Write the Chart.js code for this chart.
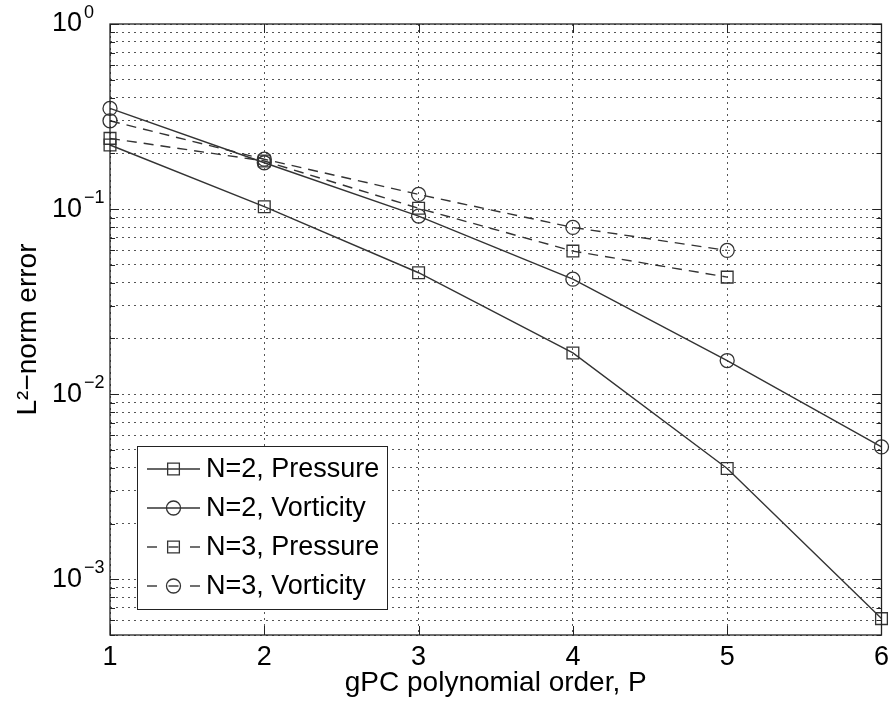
<!DOCTYPE html>
<html>
<head>
<meta charset="utf-8">
<title>L2-norm error vs gPC polynomial order</title>
<script src="https://cdn.jsdelivr.net/npm/chart.js@4.4.1/dist/chart.umd.min.js"></script>
<style>
  html, body { margin: 0; padding: 0; background: #fff; }
  canvas { display: block; }
</style>
</head>
<body>
<canvas id="errChart" width="895" height="706"></canvas>
<script>
// gPC polynomial order P
const orders = [1, 2, 3, 4, 5, 6];
const xTickValues = [1, 2, 3, 4, 5, 6];

// L2-norm errors for each run
const n2Pressure = [0.222, 0.103, 0.0453, 0.0167, 0.00397, 0.000613];
const n2Vorticity = [0.35, 0.178, 0.0917, 0.0418, 0.0152, 0.00519];
const n3Pressure = [0.241, 0.182, 0.101, 0.0593, 0.0429];
const n3Vorticity = [0.30, 0.186, 0.12, 0.0796, 0.0598];

const seriesNames = ["N=2, Pressure", "N=2, Vorticity", "N=3, Pressure", "N=3, Vorticity"];

// y axis range and the decades that get a 10^n label
const yMin = 5e-4;
const yMax = 1;
const yDecades = [-3, -2, -1, 0];

const FONT = "'Liberation Sans', Arial, Helvetica, sans-serif";
const INK = "#333";

function toPoints(values) {
    return values.map((v, i) => ({ x: orders[i], y: v }));
}

// 1..9 x 10^n ticks for the log grid
function logTicks() {
    const ticks = [];
    for (let e = -4; e <= 0; e++) {
        for (let m = 1; m <= 9; m++) {
            const v = +(m * Math.pow(10, e)).toPrecision(3);
            if (v >= yMin - 1e-12 && v <= yMax + 1e-12) ticks.push({ value: v });
        }
    }
    return ticks;
}

function isDecade(v) {
    const l = Math.log10(v);
    return Math.abs(l - Math.round(l)) < 1e-6;
}

function strokeLine(ctx, x0, y0, x1, y1) {
    ctx.beginPath();
    ctx.moveTo(x0, y0);
    ctx.lineTo(x1, y1);
    ctx.stroke();
}

function drawMarker(ctx, style, x, y, r) {
    ctx.beginPath();
    if (style === "rect") {
        const h = r * Math.SQRT1_2;
        ctx.rect(x - h, y - h, 2 * h, 2 * h);
    } else {
        ctx.arc(x, y, r, 0, Math.PI * 2);
    }
    ctx.stroke();
}

// frame, inward ticks, 10^n labels and the legend box
const axesDecor = {
    id: "axesDecor",
    afterDraw(chart) {
        const { ctx, chartArea: a, scales } = chart;
        const xs = scales.x;
        const ys = scales.y;
        ctx.save();
        ctx.setLineDash([]);
        ctx.strokeStyle = "#222";
        ctx.lineWidth = 1;

        // tick marks pointing into the plot
        ys.ticks.forEach((t) => {
            const py = Math.round(ys.getPixelForValue(t.value)) + 0.5;
            const len = isDecade(t.value) ? 9 : 5;
            strokeLine(ctx, a.left, py, a.left + len, py);
            strokeLine(ctx, a.right - len, py, a.right, py);
        });
        xs.ticks.forEach((t) => {
            const px = Math.round(xs.getPixelForValue(t.value)) + 0.5;
            strokeLine(ctx, px, a.bottom, px, a.bottom - 9);
            strokeLine(ctx, px, a.top, px, a.top + 9);
        });

        ctx.lineWidth = 1.3;
        ctx.strokeRect(a.left, a.top, a.right - a.left, a.bottom - a.top);

        // decade labels with raised exponent
        ctx.fillStyle = "#000";
        yDecades.forEach((e) => {
            const py = ys.getPixelForValue(Math.pow(10, e));
            ctx.font = "27px " + FONT;
            ctx.textAlign = "right";
            ctx.textBaseline = "middle";
            ctx.fillText("10", 82, py);
            ctx.font = "18px " + FONT;
            ctx.textAlign = "left";
            ctx.fillText(e === 0 ? "0" : "\u2212" + Math.abs(e), 84, py - 11);
        });

        // legend
        const box = { x: 137.5, y: 446.5, w: 250, h: 163 };
        ctx.fillStyle = "#fff";
        ctx.fillRect(box.x, box.y, box.w, box.h);
        ctx.lineWidth = 1;
        ctx.strokeStyle = "#222";
        ctx.strokeRect(box.x, box.y, box.w, box.h);

        chart.data.datasets.forEach((ds, i) => {
            const rowY = 469 + i * 39;
            const x0 = 147, x1 = 200, cx = (x0 + x1) / 2;
            ctx.strokeStyle = ds.borderColor;
            ctx.lineWidth = ds.borderWidth;
            if (ds.borderDash && ds.borderDash.length) {
                strokeLine(ctx, x0, rowY, x0 + 10, rowY);
                strokeLine(ctx, cx - 5, rowY, cx + 5, rowY);
                strokeLine(ctx, x1 - 10, rowY, x1, rowY);
            } else {
                strokeLine(ctx, x0, rowY, x1, rowY);
            }
            ctx.lineWidth = ds.pointBorderWidth;
            drawMarker(ctx, ds.pointStyle, cx, rowY, ds.pointRadius);
            ctx.fillStyle = "#000";
            ctx.font = "27px " + FONT;
            ctx.textAlign = "left";
            ctx.textBaseline = "middle";
            ctx.fillText(ds.label, 206, rowY + 1);
        });
        ctx.restore();
    }
};

function makeDataset(label, values, marker, dashed) {
    return {
        label: label,
        data: toPoints(values),
        borderColor: INK,
        borderWidth: 1.4,
        borderDash: dashed ? [10, 7] : [],
        pointStyle: marker,
        pointRadius: marker === "rect" ? 8.3 : 7,
        pointBorderColor: INK,
        pointBorderWidth: 1.3,
        pointBackgroundColor: "rgba(0,0,0,0)",
        fill: false,
        tension: 0,
        clip: false
    };
}

document.addEventListener("DOMContentLoaded", function() {
    Chart.defaults.font.family = FONT;
    Chart.defaults.color = "#000";

    const ctx = document.getElementById("errChart").getContext("2d");
    new Chart(ctx, {
        type: "line",
        data: {
            datasets: [
                makeDataset(seriesNames[0], n2Pressure, "rect", false),
                makeDataset(seriesNames[1], n2Vorticity, "circle", false),
                makeDataset(seriesNames[2], n3Pressure, "rect", true),
                makeDataset(seriesNames[3], n3Vorticity, "circle", true)
            ]
        },
        options: {
            responsive: false,
            animation: false,
            devicePixelRatio: 1,
            layout: { padding: { top: 24, right: 12, left: 0, bottom: 0 } },
            plugins: {
                legend: { display: false },
                tooltip: { enabled: false }
            },
            scales: {
                x: {
                    type: "linear",
                    min: 1,
                    max: 6,
                    afterBuildTicks: (scale) => {
                        scale.ticks = xTickValues.map((v) => ({ value: v }));
                    },
                    afterFit: (scale) => { scale.height = 71; },
                    ticks: {
                        autoSkip: false,
                        maxRotation: 0,
                        padding: 6,
                        color: "#000",
                        font: { size: 27 }
                    },
                    grid: { color: "#555", lineWidth: 1, drawTicks: false },
                    border: { display: false, dash: [2, 4] },
                    title: {
                        display: true,
                        text: "gPC polynomial order, P",
                        color: "#000",
                        font: { size: 28 },
                        padding: { top: 0, bottom: 6 }
                    }
                },
                y: {
                    type: "logarithmic",
                    min: yMin,
                    max: yMax,
                    afterBuildTicks: (scale) => { scale.ticks = logTicks(); },
                    afterFit: (scale) => { scale.width = 110; },
                    ticks: { display: false },
                    grid: { color: "#555", lineWidth: 1, drawTicks: false },
                    border: { display: false, dash: [2, 4] },
                    title: {
                        display: true,
                        text: "L\u00b2\u2212norm error",
                        color: "#000",
                        font: { size: 28 },
                        padding: { top: 11, bottom: 0 }
                    }
                }
            }
        },
        plugins: [axesDecor]
    });
});
</script>
</body>
</html>
